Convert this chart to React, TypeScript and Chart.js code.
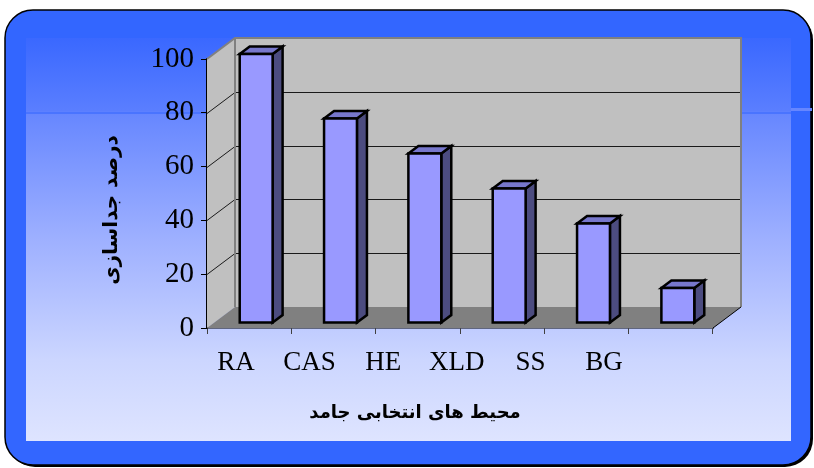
import React, { useEffect, useRef } from "react";
import { Chart, registerables } from "chart.js";

Chart.register(...registerables);

const categories = ["RA", "CAS", "HE", "XLD", "SS", "BG"];
const values = [100, 76, 63, 50, 37, 13];
const yTicks = [0, 20, 40, 60, 80, 100];
const yTitle = "درصد جداسازی";
const xTitle = "محیط های انتخابی جامد";

const WALL_DX = 28;
const WALL_DY = 21;
const BAR_SHIFT_X = 7;
const BAR_SHIFT_Y = 5;
const BAR_DX = 10;
const BAR_DY = 7.5;

function roundRect(ctx: CanvasRenderingContext2D, x: number, y: number, w: number, h: number, r: number) {
  ctx.beginPath();
  ctx.moveTo(x + r, y);
  ctx.lineTo(x + w - r, y);
  ctx.arcTo(x + w, y, x + w, y + r, r);
  ctx.lineTo(x + w, y + h - r);
  ctx.arcTo(x + w, y + h, x + w - r, y + h, r);
  ctx.lineTo(x + r, y + h);
  ctx.arcTo(x, y + h, x, y + h - r, r);
  ctx.lineTo(x, y + r);
  ctx.arcTo(x, y, x + r, y, r);
  ctx.closePath();
}

const framePlugin = {
  id: "frame3d",
  beforeDraw(chart: any) {
    const ctx: CanvasRenderingContext2D = chart.ctx;
    ctx.save();
    roundRect(ctx, 7, 12, 806, 455, 28);
    ctx.fillStyle = "#000";
    ctx.fill();
    roundRect(ctx, 5, 10, 806, 455, 28);
    ctx.fillStyle = "#3366FF";
    ctx.fill();
    ctx.lineWidth = 1.5;
    ctx.strokeStyle = "#000";
    ctx.stroke();
    const g = ctx.createLinearGradient(0, 38, 0, 441);
    g.addColorStop(0, "#3A68FF");
    g.addColorStop(0.18, "#5A7EFF");
    g.addColorStop(0.19, "#6787FF");
    g.addColorStop(0.5, "#9EB0FF");
    g.addColorStop(0.8, "#CCD6FF");
    g.addColorStop(1, "#DEE4FF");
    ctx.fillStyle = g;
    ctx.fillRect(26, 38, 765, 403);
    ctx.fillStyle = "#6686FF";
    ctx.fillRect(791, 108, 21, 3);
    ctx.fillStyle = "#4A74FF";
    ctx.fillRect(26, 112, 765, 2);
    ctx.restore();
  },
  beforeDatasetsDraw(chart: any) {
    const ctx: CanvasRenderingContext2D = chart.ctx;
    const { left, right } = chart.chartArea;
    const ys = chart.scales.y;
    const y0 = ys.getPixelForValue(0);
    const yTop = ys.getPixelForValue(100);
    ctx.save();
    ctx.beginPath();
    ctx.moveTo(left, yTop);
    ctx.lineTo(left + WALL_DX, yTop - WALL_DY);
    ctx.lineTo(left + WALL_DX, y0 - WALL_DY);
    ctx.lineTo(left, y0);
    ctx.closePath();
    ctx.fillStyle = "#C0C0C0";
    ctx.fill();
    ctx.fillStyle = "#C0C0C0";
    ctx.fillRect(left + WALL_DX, yTop - WALL_DY, right - left, y0 - yTop);
    ctx.strokeStyle = "#1a1a1a";
    ctx.lineWidth = 1;
    yTicks.forEach((t) => {
      if (t === 0 || t === 100) return;
      const py = Math.round(ys.getPixelForValue(t)) + 0.5;
      ctx.beginPath();
      ctx.moveTo(left, py);
      ctx.lineTo(left + WALL_DX, py - WALL_DY);
      ctx.lineTo(right + WALL_DX, py - WALL_DY);
      ctx.stroke();
    });
    ctx.strokeStyle = "#808080";
    ctx.lineWidth = 2;
    ctx.beginPath();
    ctx.moveTo(left, yTop);
    ctx.lineTo(left + WALL_DX, yTop - WALL_DY);
    ctx.lineTo(right + WALL_DX, yTop - WALL_DY);
    ctx.lineTo(right + WALL_DX, y0 - WALL_DY);
    ctx.stroke();
    ctx.beginPath();
    ctx.moveTo(left + WALL_DX, yTop - WALL_DY);
    ctx.lineTo(left + WALL_DX, y0 - WALL_DY);
    ctx.stroke();
    ctx.beginPath();
    ctx.moveTo(left, y0);
    ctx.lineTo(left + WALL_DX, y0 - WALL_DY);
    ctx.lineTo(right + WALL_DX, y0 - WALL_DY);
    ctx.lineTo(right, y0);
    ctx.closePath();
    ctx.fillStyle = "#808080";
    ctx.fill();
    ctx.strokeStyle = "#000";
    ctx.lineWidth = 1;
    ctx.beginPath();
    ctx.moveTo(right, y0);
    ctx.lineTo(right + WALL_DX, y0 - WALL_DY);
    ctx.stroke();
    ctx.restore();
  },
  afterDatasetsDraw(chart: any) {
    const ctx: CanvasRenderingContext2D = chart.ctx;
    const meta = chart.getDatasetMeta(0);
    ctx.save();
    ctx.lineWidth = 2.5;
    ctx.strokeStyle = "#000";
    ctx.lineJoin = "miter";
    meta.data.forEach((el: any) => {
      const { x, y, base, width } = el.getProps(["x", "y", "base", "width"], true);
      const l = x - width / 2 + BAR_SHIFT_X;
      const r = x + width / 2 + BAR_SHIFT_X;
      const t = y - BAR_SHIFT_Y;
      const b = base - BAR_SHIFT_Y;
      ctx.beginPath();
      ctx.moveTo(r, t);
      ctx.lineTo(r + BAR_DX, t - BAR_DY);
      ctx.lineTo(r + BAR_DX, b - BAR_DY);
      ctx.lineTo(r, b);
      ctx.closePath();
      ctx.fillStyle = "#4C4C80";
      ctx.fill();
      ctx.stroke();
      ctx.beginPath();
      ctx.moveTo(l, t);
      ctx.lineTo(l + BAR_DX, t - BAR_DY);
      ctx.lineTo(r + BAR_DX, t - BAR_DY);
      ctx.lineTo(r, t);
      ctx.closePath();
      ctx.fillStyle = "#7777CC";
      ctx.fill();
      ctx.stroke();
      ctx.beginPath();
      ctx.rect(l, t, r - l, b - t);
      ctx.fillStyle = "#9999FF";
      ctx.fill();
      ctx.stroke();
    });
    ctx.restore();
  },
  afterDraw(chart: any) {
    const ctx: CanvasRenderingContext2D = chart.ctx;
    ctx.save();
    ctx.fillStyle = "#000";
    ctx.textAlign = "center";
    ctx.textBaseline = "middle";
    ctx.font = "bold 18px 'DejaVu Sans'";
    ctx.fillText(xTitle, 415, 413);
    ctx.font = "bold 20px 'DejaVu Sans'";
    ctx.translate(112, 210);
    ctx.rotate(-Math.PI / 2);
    ctx.fillText(yTitle, 0, 0);
    ctx.restore();
  },
};

export default function App() {
  const ref = useRef<HTMLCanvasElement | null>(null);
  useEffect(() => {
    if (!ref.current) return;
    const chart = new Chart(ref.current, {
      type: "bar",
      data: {
        labels: categories,
        datasets: [
          {
            data: values,
            backgroundColor: "rgba(0,0,0,0)",
            borderWidth: 0,
            barPercentage: 0.39,
            categoryPercentage: 1,
          },
        ],
      },
      options: {
        animation: false,
        responsive: false,
        layout: { padding: { top: 59, right: 101, left: 0, bottom: 0 } },
        plugins: { legend: { display: false }, tooltip: { enabled: false } },
        scales: {
          y: {
            min: 0,
            max: 100,
            ticks: {
              stepSize: 20,
              color: "#000",
              padding: 7,
              font: { family: "'Liberation Serif'", size: 29 },
            },
            grid: { drawOnChartArea: false, tickLength: 6, color: "#000" },
            border: { display: true, color: "#000", width: 1.5 },
            afterFit: (s: any) => {
              s.width = 207;
            },
          },
          x: {
            type: "category",
            offset: true,
            ticks: { display: false },
            grid: { drawOnChartArea: false, tickLength: 6, color: "#404040", offset: true },
            border: { display: true, color: "#000", width: 1.5 },
            afterFit: (s: any) => {
              s.height = 6;
            },
          },
          xl: {
            type: "linear",
            position: "bottom",
            offset: false,
            min: -0.394,
            max: 6.481,
            grid: { display: false, drawTicks: false, offset: false },
            border: { display: false },
            afterBuildTicks: (s: any) => {
              s.ticks = categories.map((_, i) => ({ value: i }));
            },
            ticks: {
              autoSkip: false,
              maxRotation: 0,
              padding: 13,
              color: "#000",
              font: { family: "'Liberation Serif'", size: 27 },
              callback: (v: any) => categories[v as number] ?? "",
            },
            afterFit: (s: any) => {
              s.height = 134;
            },
          },
        },
      },
      plugins: [framePlugin],
    });
    return () => chart.destroy();
  }, []);
  return (
    <div style={{ position: "fixed", left: 0, top: 0, width: 814, height: 468 }}>
      <canvas ref={ref} width={814} height={468} />
    </div>
  );
}
